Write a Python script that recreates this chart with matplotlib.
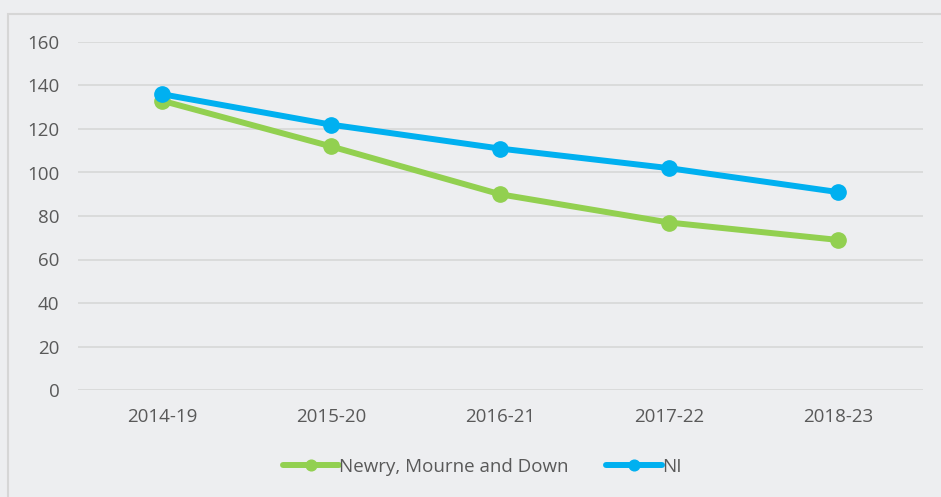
import matplotlib

matplotlib.use("Agg")
import matplotlib.pyplot as plt
from matplotlib.patches import Rectangle

# chart data
periods = ["2014-19", "2015-20", "2016-21", "2017-22", "2018-23"]
newry_values = [133, 112, 90, 77, 69]
ni_values = [136, 122, 111, 102, 91]
series_names = ["Newry, Mourne and Down", "NI"]
y_ticks = [0, 20, 40, 60, 80, 100, 120, 140, 160]

BG = "#EDEEF0"
GRID = "#D9D9D9"
TEXT = "#595959"
GREEN = "#92D050"
BLUE = "#00B0F0"

plt.rcParams["font.family"] = ["Open Sans", "DejaVu Sans"]

W, H = 941, 497
fig = plt.figure(figsize=(W / 100, H / 100), dpi=100)
fig.patch.set_facecolor(BG)

# outer chart frame (right and bottom edges fall outside the image)
fig.patches.append(Rectangle((7.5 / W, -0.1), 1.1, (H - 13.5) / H + 0.1,
                             transform=fig.transFigure, fill=False,
                             edgecolor="#D6D6D6", linewidth=1.5))

ax = fig.add_axes([77.5 / W, (H - 390) / H, 845 / W, 348 / H])
ax.set_facecolor(BG)

x = list(range(len(periods)))
ax.plot(x, newry_values, color=GREEN, linewidth=4.3, marker="o",
        markersize=11, solid_capstyle="round", label=series_names[0], zorder=3)
ax.plot(x, ni_values, color=BLUE, linewidth=4.3, marker="o",
        markersize=11, solid_capstyle="round", label=series_names[1], zorder=4)

ax.set_xlim(-0.5, len(periods) - 0.5)
ax.set_ylim(0, 160)
ax.set_yticks(y_ticks)
ax.set_xticks(x)
ax.set_xticklabels(periods)
ax.yaxis.grid(True, color=GRID, linewidth=1.3)
ax.set_axisbelow(True)
for side in ["top", "right", "left", "bottom"]:
    ax.spines[side].set_visible(False)
ax.tick_params(axis="both", length=0, labelsize=13.5, labelcolor=TEXT)
ax.tick_params(axis="x", pad=13)
ax.tick_params(axis="y", pad=13)

leg = fig.legend(loc="center", bbox_to_anchor=(482 / W, (H - 467) / H), ncol=2,
                 frameon=False, fontsize=13.5, handlelength=3.0,
                 handletextpad=0.0, columnspacing=2.0, markerscale=0.7)
for t in leg.get_texts():
    t.set_color(TEXT)

fig.savefig("out.png", dpi=100, facecolor=BG)
